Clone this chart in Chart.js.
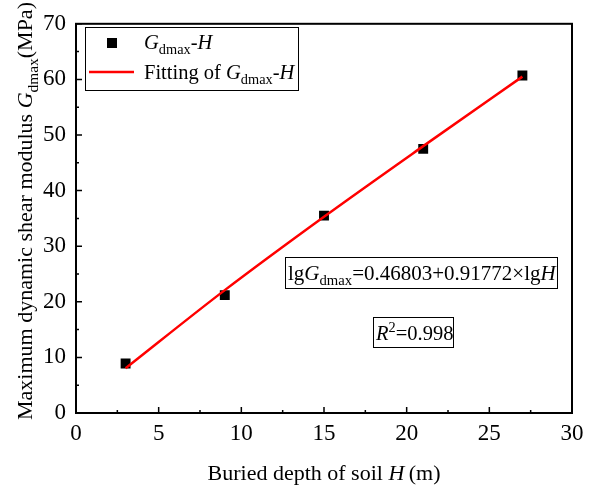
<!DOCTYPE html>
<html>
<head>
<meta charset="utf-8">
<script src="https://cdn.jsdelivr.net/npm/chart.js@4.4.0/dist/chart.umd.min.js"></script>
<style>
  html, body { margin: 0; padding: 0; background: #fff; }
  #wrap { width: 593px; height: 489px; }
</style>
</head>
<body>
<div id="wrap"><canvas id="chart" width="593" height="489"></canvas></div>
<script>
// measured data
const depthH = [3, 9, 15, 21, 27];
const gdmax = [8.9, 21.2, 35.5, 47.5, 60.7];
// fitted curve
const fitH = [3, 9, 15, 21, 27];
const fitG = [8.05, 22.1, 35.3, 48.0, 60.5];

const xTicks = [0, 5, 10, 15, 20, 25, 30];
const yTicks = [0, 10, 20, 30, 40, 50, 60, 70];

const FONT = '"Liberation Serif", "Times New Roman", serif';

// draws text made of pieces: {t, i: italic, sub, sup}
function richWidth(ctx, parts, size) {
    let w = 0;
    parts.forEach(p => {
        const s = (p.sub || p.sup) ? size * 0.7 : size;
        ctx.font = (p.i ? 'italic ' : '') + s + 'px ' + FONT;
        w += ctx.measureText(p.t).width;
    });
    return w;
}
function richText(ctx, parts, x, y, size) {
    ctx.textBaseline = 'alphabetic';
    ctx.textAlign = 'left';
    parts.forEach(p => {
        const s = (p.sub || p.sup) ? size * 0.7 : size;
        ctx.font = (p.i ? 'italic ' : '') + s + 'px ' + FONT;
        let dy = 0;
        if (p.sub) dy = size * 0.25;
        if (p.sup) dy = -size * 0.4;
        ctx.fillText(p.t, x, y + dy);
        x += ctx.measureText(p.t).width;
    });
    return x;
}

const frame = {
    id: 'frame',
    afterDraw(chart) {
        const ctx = chart.ctx;
        const a = chart.chartArea;
        const xs = chart.scales.x, ys = chart.scales.y;
        ctx.save();
        ctx.strokeStyle = '#000';
        ctx.fillStyle = '#000';
        ctx.lineWidth = 2;
        ctx.strokeRect(a.left, a.top, a.right - a.left, a.bottom - a.top);

        // ticks pointing inward
        ctx.lineWidth = 1.5;
        ctx.beginPath();
        for (let v = 0; v <= 30; v += 2.5) {
            const px = xs.getPixelForValue(v);
            const len = (v % 5 === 0) ? 6 : 3;
            ctx.moveTo(px, a.bottom);
            ctx.lineTo(px, a.bottom - len);
        }
        for (let v = 0; v <= 70; v += 5) {
            const py = ys.getPixelForValue(v);
            const len = (v % 10 === 0) ? 6 : 3;
            ctx.moveTo(a.left, py);
            ctx.lineTo(a.left + len, py);
        }
        ctx.stroke();

        // axis titles
        const xt = [{t: 'Buried depth of soil '}, {t: 'H', i: true}, {t: '\u2009(m)'}];
        const xw = richWidth(ctx, xt, 22);
        richText(ctx, xt, 324 - xw / 2, 480, 22);

        ctx.save();
        ctx.translate(32, 211);
        ctx.rotate(-Math.PI / 2);
        const yt = [{t: 'Maximum dynamic shear modulus '}, {t: 'G', i: true}, {t: 'dmax', sub: true}, {t: '(MPa)'}];
        const yw = richWidth(ctx, yt, 22);
        richText(ctx, yt, -yw / 2, 0, 22);
        ctx.restore();

        // legend
        ctx.lineWidth = 1;
        ctx.strokeStyle = '#000';
        ctx.strokeRect(85.5, 27.5, 213, 63);
        ctx.fillRect(107, 38, 10, 10);
        ctx.strokeStyle = '#ff0000';
        ctx.lineWidth = 2.5;
        ctx.beginPath();
        ctx.moveTo(89, 72);
        ctx.lineTo(134, 72);
        ctx.stroke();
        richText(ctx, [{t: 'G', i: true}, {t: 'dmax', sub: true}, {t: '-'}, {t: 'H', i: true}], 144, 49, 20.5);
        richText(ctx, [{t: 'Fitting of '}, {t: 'G', i: true}, {t: 'dmax', sub: true}, {t: '-'}, {t: 'H', i: true}], 144, 79, 20.5);

        // equation boxes
        ctx.strokeStyle = '#000';
        ctx.lineWidth = 1;
        ctx.strokeRect(285.5, 257.5, 272, 31);
        richText(ctx, [{t: 'lg'}, {t: 'G', i: true}, {t: 'dmax', sub: true}, {t: '=0.46803+0.91772\u00d7lg'}, {t: 'H', i: true}], 288, 280, 21);
        ctx.strokeRect(373.5, 317.5, 80, 30);
        richText(ctx, [{t: 'R', i: true}, {t: '2', sup: true}, {t: '=0.998'}], 376, 340, 20.5);
        ctx.restore();
    }
};

new Chart(document.getElementById('chart'), {
    type: 'scatter',
    data: {
        datasets: [
            {
                label: 'Fitting',
                type: 'line',
                data: fitH.map((h, i) => ({x: h, y: fitG[i]})),
                borderColor: '#ff0000',
                borderWidth: 2.5,
                pointRadius: 0,
                cubicInterpolationMode: 'monotone',
                fill: false
            },
            {
                label: 'Gdmax-H',
                data: depthH.map((h, i) => ({x: h, y: gdmax[i]})),
                backgroundColor: '#000',
                borderWidth: 0,
                pointStyle: 'rect',
                pointRadius: 7,
                pointHoverRadius: 7
            }
        ]
    },
    options: {
        responsive: false,
        animation: false,
        layout: { padding: { left: 0, right: 21, top: 21, bottom: 0 } },
        plugins: { legend: { display: false }, tooltip: { enabled: false } },
        scales: {
            x: {
                type: 'linear',
                min: 0, max: 30,
                afterFit(s) { s.height = 76; },
                afterBuildTicks(s) { s.ticks = xTicks.map(v => ({value: v})); },
                grid: { display: false, drawTicks: false },
                border: { display: false },
                ticks: { color: '#000', padding: 7, maxRotation: 0, font: { family: FONT, size: 23 } }
            },
            y: {
                type: 'linear',
                min: 0, max: 70,
                afterFit(s) { s.width = 76; },
                afterBuildTicks(s) { s.ticks = yTicks.map(v => ({value: v})); },
                grid: { display: false, drawTicks: false },
                border: { display: false },
                ticks: { color: '#000', padding: 10, font: { family: FONT, size: 23 } }
            }
        }
    },
    plugins: [frame]
});
</script>
</body>
</html>
